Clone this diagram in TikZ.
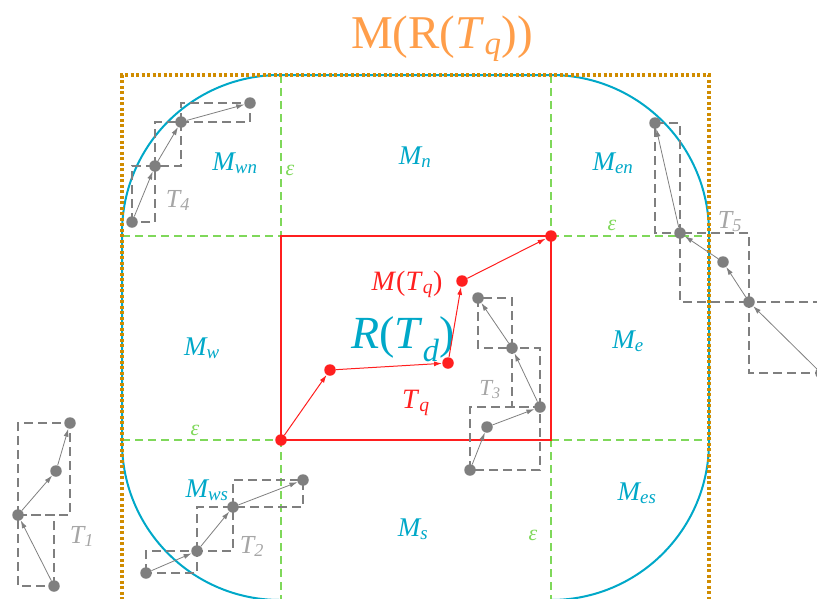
\documentclass[tikz,border=0pt]{standalone}
\usepackage{fontspec}
\setmainfont{Liberation Serif}
\usetikzlibrary{arrows.meta}
\definecolor{cy}{HTML}{00A8C8}
\definecolor{org}{HTML}{D08C00}
\definecolor{gr}{HTML}{7FD85A}
\definecolor{rd}{HTML}{FF1F1F}
\definecolor{gd}{HTML}{7F7F7F}
\definecolor{gl}{HTML}{A6A6A6}
\definecolor{ttl}{HTML}{FF9E4A}
\begin{document}
\begin{tikzpicture}[x=1pt,y=-1pt,
 gdot/.style={circle,fill=gd,inner sep=0pt,minimum size=11.5pt},
 rdot/.style={circle,fill=rd,inner sep=0pt,minimum size=11.5pt},
 garr/.style={draw=gd,line width=0.8pt,-{Latex[length=8pt,width=5pt]}},
 rarr/.style={draw=rd,line width=1pt,-{Latex[length=8pt,width=5pt]}},
 gbox/.style={draw=gd,line width=1.3pt,dash pattern=on 9pt off 5pt},
 gline/.style={draw=gr,line width=1.3pt,dash pattern=on 8pt off 5pt},
 mlab/.style={anchor=base,text=cy,inner sep=0pt,font=\fontsize{27}{29}\selectfont\itshape},
 tlab/.style={anchor=base,text=gl,inner sep=0pt,font=\fontsize{26}{28}\selectfont\itshape},
 elab/.style={anchor=base,text=gr,inner sep=0pt,font=\fontsize{22}{24}\selectfont\itshape},
 rlab/.style={anchor=base,text=rd,inner sep=0pt,font=\fontsize{28}{30}\selectfont},
]
\useasboundingbox (0,0) rectangle (817,598);
\clip (0,0) rectangle (817,598);

% title
\node[anchor=base,text=ttl,inner sep=0pt,font=\fontsize{47}{50}\selectfont] (title) at (442,48) {M(R(\textit{T}\textsubscript{\textit{q}}))};

% epsilon grid
\draw[gline] (122,236) -- (709,236);
\draw[gline] (122,440) -- (709,440);
\draw[gline] (281,75) -- (281,600);
\draw[gline] (551,75) -- (551,600);

% red rectangle
\draw[rd,line width=1.3pt] (281,236) rectangle (551,440);

% cyan rounded region and orange dotted box
\draw[cy,line width=2pt,rounded corners=158pt] (122,75) rectangle (709,600);
\draw[org,line width=3.2pt,dash pattern=on 3pt off 2.5pt] (122,600) -- (122,75) -- (709,75) -- (709,600);

% region labels
\node[mlab] (mwn) at (235,170) {M\textsubscript{wn}};
\node[mlab] (mn) at (415,164) {M\textsubscript{n}};
\node[mlab] (men) at (613,170) {M\textsubscript{en}};
\node[mlab] (mw) at (202,355) {M\textsubscript{w}};
\node[mlab] (me) at (628,348) {M\textsubscript{e}};
\node[mlab] (mws) at (207,497) {M\textsubscript{ws}};
\node[mlab] (ms) at (413,536) {M\textsubscript{s}};
\node[mlab] (mes) at (637,500) {M\textsubscript{es}};
\node[anchor=base,text=cy,inner sep=0pt,font=\fontsize{46}{48}\selectfont] (rtd) at (403,348) {\textit{R}(\textit{T}\textsubscript{\textit{d}})};

% epsilon labels
\node[elab] (e1) at (290,175) {ε};
\node[elab] (e2) at (195,435) {ε};
\node[elab] (e3) at (612,230) {ε};
\node[elab] (e4) at (533,540) {ε};

% coordinates of trajectories
\coordinate (a1) at (132,222); \coordinate (a2) at (155,166); \coordinate (a3) at (181,122); \coordinate (a4) at (250,103);
\coordinate (b1) at (821,373); \coordinate (b2) at (749,302); \coordinate (b3) at (723,262); \coordinate (b4) at (680,233); \coordinate (b5) at (655,123);
\coordinate (c1) at (470,470); \coordinate (c2) at (487,427); \coordinate (c3) at (540,407); \coordinate (c4) at (512,348); \coordinate (c5) at (478,298);
\coordinate (d1) at (54,586); \coordinate (d2) at (18,515); \coordinate (d3) at (56,471); \coordinate (d4) at (70,423);
\coordinate (f1) at (146,573); \coordinate (f2) at (197,551); \coordinate (f3) at (233,507); \coordinate (f4) at (303,480);

% dashed bounding boxes
\draw[gbox] (a1) rectangle (a2); \draw[gbox] (a2) rectangle (a3); \draw[gbox] (a3) rectangle (a4);
\draw[gbox] (b1) rectangle (b2); \draw[gbox] (b2) rectangle (b4); \draw[gbox] (b4) rectangle (b5);
\draw[gbox] (c1) rectangle (c3); \draw[gbox] (c3) rectangle (c4); \draw[gbox] (c4) rectangle (c5);
\draw[gbox] (d1) rectangle (d2); \draw[gbox] (d2) rectangle (d4);
\draw[gbox] (f1) rectangle (f2); \draw[gbox] (f2) rectangle (f3); \draw[gbox] (f3) rectangle (f4);

% dots
\foreach \p in {a1,a2,a3,a4,b1,b2,b3,b4,b5,c1,c2,c3,c4,c5,d1,d2,d3,d4,f1,f2,f3,f4}
  \node[gdot] (n\p) at (\p) {};

% arrows
\draw[garr] (na1) -- (na2); \draw[garr] (na2) -- (na3); \draw[garr] (na3) -- (na4);
\draw[garr] (nb1) -- (nb2); \draw[garr] (nb2) -- (nb3); \draw[garr] (nb3) -- (nb4); \draw[garr] (nb4) -- (nb5);
\draw[garr] (nc1) -- (nc2); \draw[garr] (nc2) -- (nc3); \draw[garr] (nc3) -- (nc4); \draw[garr] (nc4) -- (nc5);
\draw[garr] (nd1) -- (nd2); \draw[garr] (nd2) -- (nd3); \draw[garr] (nd3) -- (nd4);
\draw[garr] (nf1) -- (nf2); \draw[garr] (nf2) -- (nf3); \draw[garr] (nf3) -- (nf4);

% trajectory labels
\node[tlab] (t1) at (82,543) {T\textsubscript{1}};
\node[tlab] (t2) at (252,553) {T\textsubscript{2}};
\node[tlab,font=\fontsize{23}{25}\selectfont\itshape] (t3) at (490,395) {T\textsubscript{3}};
\node[tlab] (t4) at (178,207) {T\textsubscript{4}};
\node[tlab] (t5) at (730,228) {T\textsubscript{5}};

% red query trajectory
\node[rdot] (q1) at (281,440) {};
\node[rdot] (q2) at (330,370) {};
\node[rdot] (q3) at (448,363) {};
\node[rdot] (q4) at (462,281) {};
\node[rdot] (q5) at (551,236) {};
\draw[rarr] (q1) -- (q2); \draw[rarr] (q2) -- (q3); \draw[rarr] (q3) -- (q4); \draw[rarr] (q4) -- (q5);
\node[rlab] (mtq) at (407,290) {\textit{M}(\textit{T}\textsubscript{\textit{q}})};
\node[rlab] (tq) at (416,408) {\textit{T}\textsubscript{\textit{q}}};
\end{tikzpicture}
\end{document}
